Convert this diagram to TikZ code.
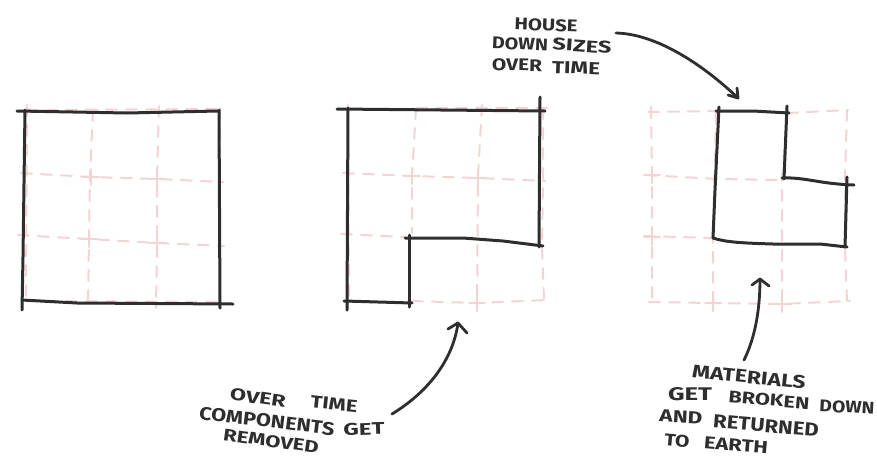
\documentclass[tikz,border=0pt]{standalone}
\usepackage{fontspec}
\setmainfont{Fira Sans}
\definecolor{gridpink}{HTML}{F2D5D3}
\definecolor{ink}{HTML}{2E2E2E}
\newcommand{\hw}[3]{\resizebox{#1pt}{#2pt}{\bfseries #3}}
\tikzset{
  every picture/.style={x=1pt,y=-1pt,line cap=round,line join=round},
  wall/.style={draw=ink,line width=3pt},
  gridline/.style={draw=gridpink,line width=2pt,dash pattern=on 11pt off 9pt},
  gridcross/.style={draw=gridpink,line width=2pt},
  note/.style={draw=ink,line width=2.8pt},
  hand/.style={text=ink,inner sep=0pt,anchor=center},
}
\begin{document}
\begin{tikzpicture}
\useasboundingbox (0,0) rectangle (877,458);
% ----- plan 1 grid
\draw[gridline] (27,105) -- (26,300);
\draw[gridline] (93,110) -- (90,177) -- (89,238) -- (88,308);
\draw[gridline] (159,106) -- (157,178) -- (157,243) -- (156,308);
\draw[gridline] (220,108) -- (220,300);
\draw[gridline] (21,173) -- (91,177) -- (157,179) -- (223,182);
\draw[gridline] (18,235) -- (89,239) -- (157,243) -- (224,246);
\draw[gridline] (26,110) -- (223,109);
\draw[gridline] (26,301) -- (220,302);
\foreach \x/\y in {91/177,157/179,89/239,157/243}
  \draw[gridcross] (\x-8,\y) -- (\x+8,\y) (\x,\y-8) -- (\x,\y+8);
% plan 1 walls
\draw[wall] (17,111) -- (73,112) -- (127,113) -- (218,111);
\draw[wall] (25,110) -- (23,257) -- (22,310);
\draw[wall] (219,110) -- (220,308);
\draw[wall] (22,300) -- (77,303) -- (233,304);
% ----- plan 2 grid
\draw[gridline] (348,105) -- (349,300);
\draw[gridline] (416,108) -- (412,177) -- (412,233);
\draw[gridline] (482,105) -- (478,177) -- (477,308);
\draw[gridline] (543,108) -- (543,180) -- (542,247) -- (544,300);
\draw[gridline] (343,173) -- (412,176) -- (478,178) -- (545,181);
\draw[gridline] (341,234) -- (405,237);
\draw[gridline] (412,301) -- (477,303) -- (547,300);
\draw[gridline] (416,108) -- (547,108);
\foreach \x/\y in {412/176,478/178,477/303}
  \draw[gridcross] (\x-8,\y) -- (\x+8,\y) (\x,\y-8) -- (\x,\y+8);
% plan 2 walls
\draw[wall] (337,109) -- (545,111);
\draw[wall] (348,108) -- (347,310);
\draw[wall] (540,97) -- (539,247);
\draw[wall] (409,235) -- (409,307);
\draw[wall] (405,238) -- (463,238) -- (503,241) -- (543,246);
\draw[wall] (344,301) -- (412,303);
% ----- plan 3 grid
\draw[gridline] (651,107) -- (652,175) -- (652,237) -- (652,302);
\draw[gridline] (716,112) -- (713,238) -- (713,308);
\draw[gridline] (787,110) -- (782,180) -- (782,310);
\draw[gridline] (847,110) -- (845,177) -- (845,247) -- (847,302);
\draw[gridline] (648,112) -- (716,111);
\draw[gridline] (787,113) -- (848,110);
\draw[gridline] (646,175) -- (717,179) -- (783,180);
\draw[gridline] (644,236) -- (712,238);
\draw[gridline] (649,302) -- (713,303) -- (780,304) -- (850,301);
\foreach \x/\y in {652/175,652/237,713/303,782/304}
  \draw[gridcross] (\x-8,\y) -- (\x+8,\y) (\x,\y-8) -- (\x,\y+8);
% plan 3 walls
\draw[wall] (716,111) -- (753,111) -- (789,113);
\draw[wall] (719,107) -- (715,190) -- (713,238);
\draw[wall] (787,106) -- (784,179);
\draw[wall] (782,178) .. controls (805,177) and (820,184) .. (854,185);
\draw[wall] (847,177) -- (845,247);
\draw[wall] (713,238) .. controls (725,242) and (740,243) .. (773,244) -- (820,244) -- (847,247);
% ----- labels
\node[hand,rotate=-2] (h1) at (546,25) {\hw{63}{12}{HOUSE}};
\node[hand,rotate=-2] (h2) at (520,44) {\hw{56}{12}{DOWN}};
\node[hand,rotate=-4] (h3) at (582,46) {\hw{59}{12}{SIZES}};
\node[hand,rotate=-1] (h4) at (517,65) {\hw{50}{12}{OVER}};
\node[hand,rotate=-2] (h5) at (576,68) {\hw{48}{12}{TIME}};
\coordinate (a1s) at (616,33);
\coordinate (a1e) at (738,98);
\draw[note] (a1s) .. controls (655,34) and (700,62) .. (a1e);
\draw[note] (728,95) -- (a1e) -- (737,88);
\node[hand,rotate=-8] (o1) at (258,398) {\hw{56}{12}{OVER}};
\node[hand,rotate=-6] (o2) at (334,404) {\hw{47}{12}{TIME}};
\node[hand,rotate=-7] (o3) at (267,421) {\hw{136}{13}{COMPONENTS}};
\node[hand,rotate=2] (o4) at (364,429) {\hw{41}{12}{GET}};
\node[hand,rotate=-8] (o5) at (271,441) {\hw{96}{12}{REMOVED}};
\coordinate (a2s) at (392,414);
\coordinate (a2e) at (458,323);
\draw[note] (a2s) .. controls (428,392) and (453,360) .. (a2e);
\draw[note] (448,329) -- (a2e) -- (467,333);
\node[hand,rotate=-6] (m1) at (749,377) {\hw{114}{13}{MATERIALS}};
\node[hand] (m2) at (690,394) {\hw{44}{13}{GET}};
\node[hand,rotate=-5] (m3) at (769,400) {\hw{81}{12}{BROKEN}};
\node[hand,rotate=-3] (m4) at (847,407) {\hw{55}{12}{DOWN}};
\node[hand,rotate=-3] (m5) at (681,417) {\hw{43}{12}{AND}};
\node[hand,rotate=-5] (m6) at (766,426) {\hw{106}{13}{RETURNED}};
\node[hand,rotate=-5] (m7) at (677,441) {\hw{25}{12}{TO}};
\node[hand,rotate=-5] (m8) at (736,445) {\hw{64}{12}{EARTH}};
\coordinate (a3s) at (744,360);
\coordinate (a3e) at (760,279);
\draw[note] (a3s) .. controls (755,338) and (760,310) .. (a3e);
\draw[note] (752,285) -- (a3e) -- (769,286);
\end{tikzpicture}
\end{document}
